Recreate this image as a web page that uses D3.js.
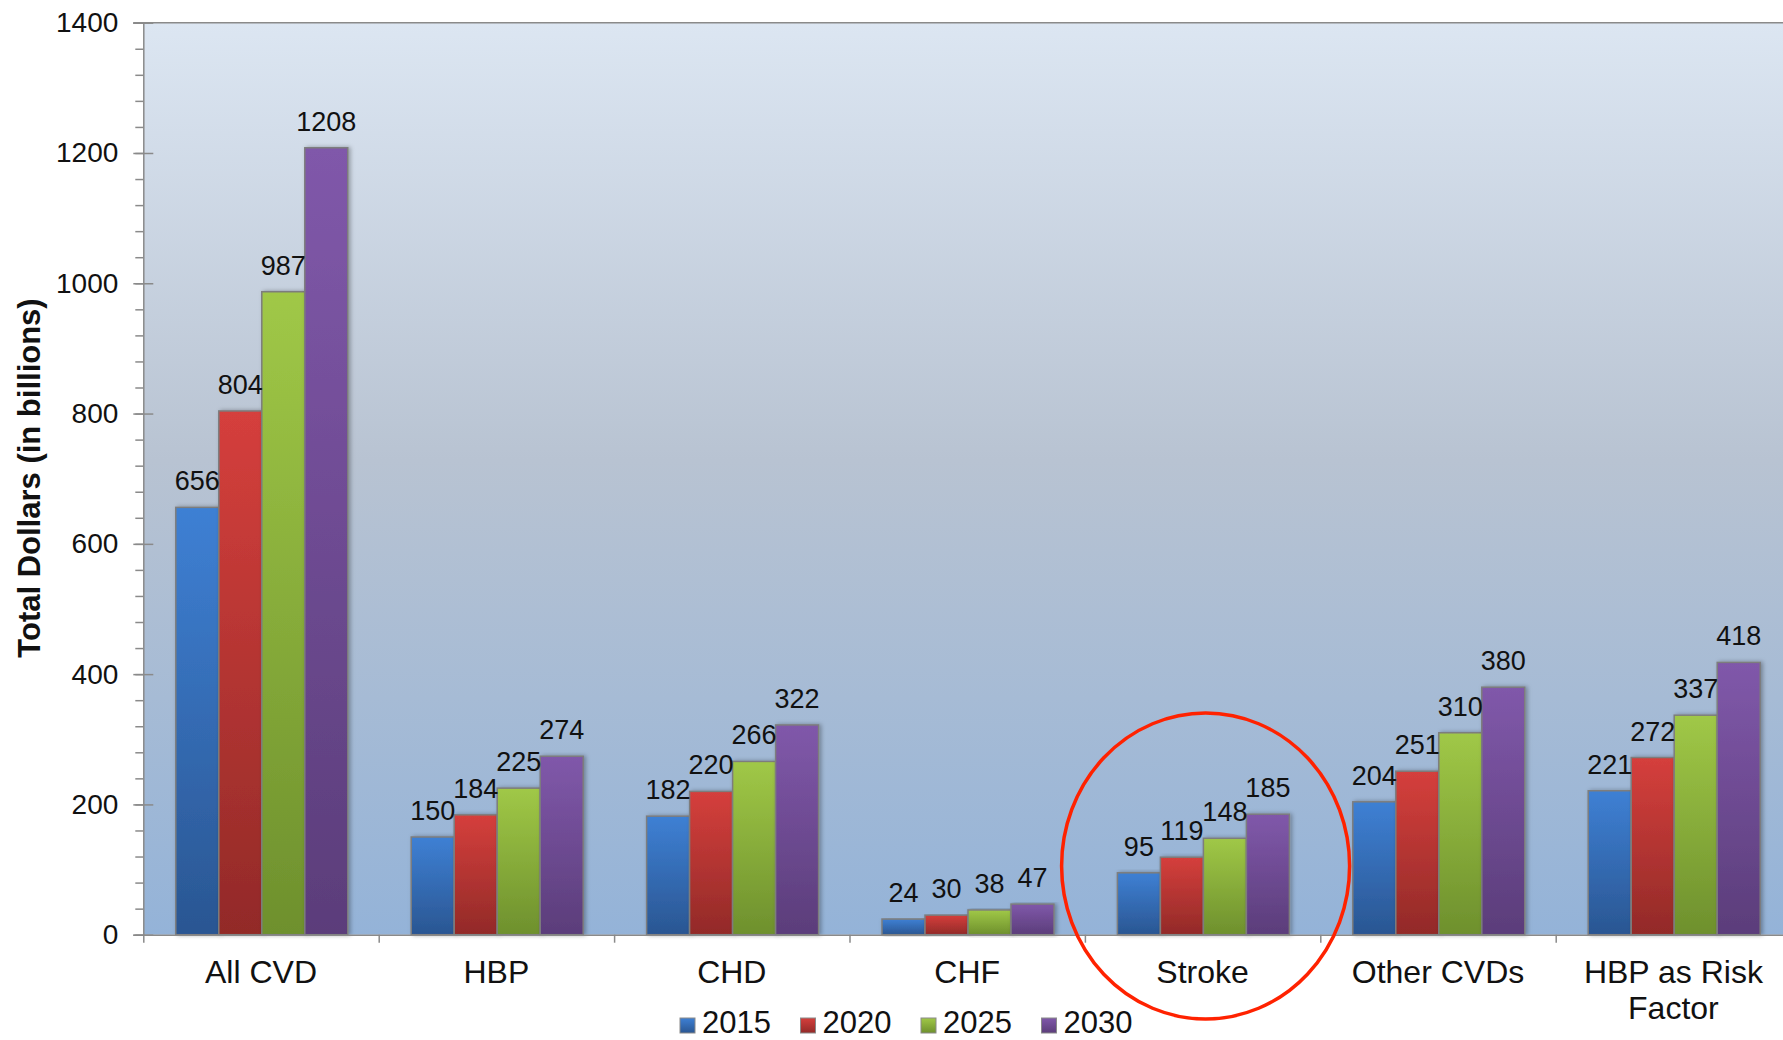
<!DOCTYPE html>
<html>
<head>
<meta charset="utf-8">
<script src="https://cdn.jsdelivr.net/npm/d3@7"></script>
<style>
  html, body { margin: 0; padding: 0; background: #ffffff; }
  svg { display: block; font-family: "Liberation Sans", Arial, sans-serif; }
</style>
</head>
<body>
<svg id="chart" width="1783" height="1040"></svg>
<script>
// Projected cardiovascular costs by condition (billions of dollars)
const categories = ["All CVD", "HBP", "CHD", "CHF", "Stroke", "Other CVDs", "HBP as Risk Factor"];
const categoryLines = [["All CVD"], ["HBP"], ["CHD"], ["CHF"], ["Stroke"], ["Other CVDs"], ["HBP as Risk", "Factor"]];
const years = ["2015", "2020", "2025", "2030"];
const values2015 = [656, 150, 182, 24, 95, 204, 221];
const values2020 = [804, 184, 220, 30, 119, 251, 272];
const values2025 = [987, 225, 266, 38, 148, 310, 337];
const values2030 = [1208, 274, 322, 47, 185, 380, 418];
const yTicks = [0, 200, 400, 600, 800, 1000, 1200, 1400];
const highlighted = "Stroke";

const seriesValues = [values2015, values2020, values2025, values2030];
const seriesColors = [
  { top: "#3e80d4", bottom: "#2a5692" },
  { top: "#d53f3c", bottom: "#922a28" },
  { top: "#a0c847", bottom: "#6e902d" },
  { top: "#8058aa", bottom: "#5b3d7a" }
];

const svg = d3.select("#chart");
const W = 1783;
const plotLeft = 143.3, plotTop = 22.7, plotBottom = 934.7;
const bandW = 235.4;
const plotRight = plotLeft + bandW * categories.length;

const x = d3.scaleBand().domain(categories).range([plotLeft, plotRight]).paddingInner(0).paddingOuter(0);
const xSub = d3.scaleBand().domain(years).range([32.5, 204.5]).padding(0);
const y = d3.scaleLinear().domain([0, 1400]).range([plotBottom, plotTop]);

const defs = svg.append("defs");
const bg = defs.append("linearGradient").attr("id", "bg").attr("x1", 0).attr("y1", 0).attr("x2", 0).attr("y2", 1);
bg.append("stop").attr("offset", "0%").attr("stop-color", "#dce6f2");
bg.append("stop").attr("offset", "48%").attr("stop-color", "#b8c3d2");
bg.append("stop").attr("offset", "100%").attr("stop-color", "#94b3d8");

seriesColors.forEach((c, i) => {
  const g = defs.append("linearGradient").attr("id", "bar" + i)
    .attr("x1", 0).attr("y1", 0).attr("x2", 0).attr("y2", 1);
  g.append("stop").attr("offset", "0%").attr("stop-color", c.top);
  g.append("stop").attr("offset", "100%").attr("stop-color", c.bottom);
});

const shadow = defs.append("filter").attr("id", "shadow")
  .attr("x", "-20%").attr("y", "-5%").attr("width", "150%").attr("height", "115%");
shadow.append("feDropShadow").attr("dx", 2).attr("dy", 0).attr("stdDeviation", 2)
  .attr("flood-color", "#000").attr("flood-opacity", 0.3);

// plot area background
svg.append("rect").attr("x", plotLeft).attr("y", plotTop)
  .attr("width", plotRight - plotLeft).attr("height", plotBottom - plotTop)
  .attr("fill", "url(#bg)");

// top border
svg.append("line").attr("x1", plotLeft - 10).attr("x2", W).attr("y1", plotTop).attr("y2", plotTop)
  .attr("stroke", "#8a8a8a").attr("stroke-width", 1.5);

// bars
const groups = svg.append("g").selectAll("g").data(categories).join("g")
  .attr("transform", d => `translate(${x(d)},0)`);

groups.each(function(cat, ci) {
  const g = d3.select(this);
  const rows = years.map((yr, si) => ({ yr, si, v: seriesValues[si][ci] }));
  g.selectAll("rect").data(rows).join("rect")
    .attr("x", d => xSub(d.yr))
    .attr("y", d => y(d.v))
    .attr("width", xSub.bandwidth())
    .attr("height", d => y(0) - y(d.v))
    .attr("fill", d => `url(#bar${d.si})`)
    .attr("stroke", "#7d7d7d").attr("stroke-width", 1.5)
    .attr("filter", "url(#shadow)");
  g.selectAll("text").data(rows).join("text")
    .attr("x", d => xSub(d.yr) + xSub.bandwidth() / 2)
    .attr("y", d => y(d.v) - 17)
    .attr("text-anchor", "middle")
    .attr("font-size", 27).attr("fill", "#111")
    .text(d => d.v);
});

// y axis: minor ticks
const yMinor = d3.axisLeft(y).tickValues(d3.range(0, 1401, 40)).tickSize(8).tickFormat("");
svg.append("g").attr("transform", `translate(${plotLeft},0)`).call(yMinor)
  .call(g => g.select(".domain").remove())
  .call(g => g.selectAll("line").attr("stroke", "#8a8a8a").attr("stroke-width", 1.5));

// y axis: major ticks and labels
const yMajor = d3.axisLeft(y).tickValues(yTicks).tickSize(10).tickPadding(15).tickFormat(d3.format("d"));
svg.append("g").attr("transform", `translate(${plotLeft},0)`).call(yMajor)
  .call(g => g.select(".domain").attr("stroke", "#8a8a8a").attr("stroke-width", 1.5))
  .call(g => g.selectAll(".tick line").attr("x1", 10).attr("x2", -10)
    .attr("stroke", "#8a8a8a").attr("stroke-width", 1.5))
  .call(g => g.selectAll(".tick text").attr("font-size", 28).attr("fill", "#111")
    .attr("font-family", "Liberation Sans, Arial, sans-serif"));

// x axis: baseline and category boundary ticks
const xEdge = d3.scaleLinear().domain([0, categories.length]).range([plotLeft, plotRight]);
svg.append("g").attr("transform", `translate(0,${plotBottom})`)
  .call(d3.axisBottom(xEdge).tickValues(d3.range(0, categories.length + 1)).tickSize(8).tickFormat("").tickSizeOuter(0))
  .call(g => g.select(".domain").attr("stroke", "#8a8a8a").attr("stroke-width", 1.5))
  .call(g => g.selectAll(".tick line").attr("stroke", "#8a8a8a").attr("stroke-width", 1.5));

// category labels
const catLabels = svg.append("g").selectAll("text").data(categories).join("text")
  .attr("x", d => x(d) + x.bandwidth() / 2)
  .attr("y", 983)
  .attr("text-anchor", "middle")
  .attr("font-size", 32).attr("fill", "#111");
catLabels.each(function(d, i) {
  d3.select(this).selectAll("tspan").data(categoryLines[i]).join("tspan")
    .attr("x", x(d) + x.bandwidth() / 2)
    .attr("dy", (t, j) => j === 0 ? 0 : 36)
    .text(t => t);
});

// y axis title
svg.append("text")
  .attr("transform", "translate(40,478) rotate(-90)")
  .attr("text-anchor", "middle")
  .attr("font-size", 31).attr("font-weight", "bold").attr("fill", "#111")
  .text("Total Dollars (in billions)");

// legend
const legendX = d3.scalePoint().domain(years).range([680, 1041.5]);
const legend = svg.append("g").selectAll("g").data(years).join("g")
  .attr("transform", d => `translate(${legendX(d)},0)`);
legend.append("rect").attr("x", 0).attr("y", 1018).attr("width", 15).attr("height", 15)
  .attr("fill", (d, i) => `url(#bar${i})`).attr("stroke", "#8a8a8a").attr("stroke-width", 1);
legend.append("text").attr("x", 22).attr("y", 1033)
  .attr("font-size", 31).attr("fill", "#111").text(d => d);

// highlight ring around the stroke group
const hx = x(highlighted) + x.bandwidth() / 2;
svg.append("ellipse")
  .attr("cx", hx + 3).attr("cy", 866)
  .attr("rx", 144).attr("ry", 153)
  .attr("fill", "none").attr("stroke", "#ff2200").attr("stroke-width", 3.5);
</script>
</body>
</html>
